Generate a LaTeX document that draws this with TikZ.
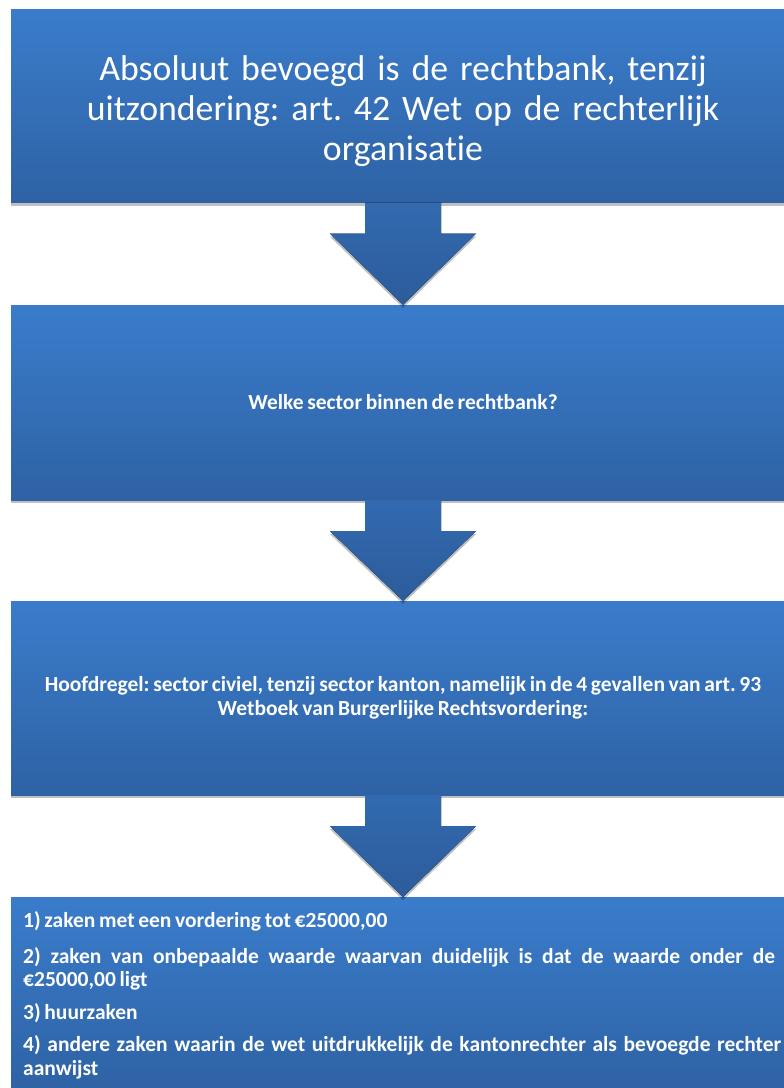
\documentclass[tikz,border=0pt]{standalone}
\usepackage{fontspec}
\setmainfont{Carlito}[Ligatures={NoCommon}]
\usetikzlibrary{calc,shadows}
\definecolor{boxtop}{RGB}{58,124,203}
\definecolor{boxbot}{RGB}{46,98,164}
\definecolor{arrtop}{RGB}{50,106,176}
\definecolor{arrbot}{RGB}{44,92,154}
\tikzset{
  flowbox/.style={rectangle, minimum width=784pt, text=white, top color=boxtop, bottom color=boxbot,
    drop shadow={shadow xshift=0pt, shadow yshift=-3pt, opacity=0.25, fill=black}},
  downarrow/.style={top color=arrtop, bottom color=arrbot,
    drop shadow={shadow xshift=0pt, shadow yshift=-3pt, opacity=0.25, fill=black}}
}
\begin{document}
\frenchspacing
\begin{tikzpicture}[x=1pt,y=-1pt]
\useasboundingbox (0,0) rectangle (784,1088);
\fill[white] (0,0) rectangle (784,1088);
\node[flowbox, minimum height=193pt, text width=760pt, align=center,
  font=\fontsize{35.8}{40}\selectfont] (box1) at (403,106)
  {\rule{0pt}{36pt}Absoluut bevoegd is de rechtbank, tenzij\\ uitzondering: art. 42 Wet op de rechterlijk\\ organisatie};
\node[flowbox, minimum height=195pt, text width=760pt, align=center,
  font=\bfseries\fontsize{21.5}{23.5}\selectfont] (box2) at (403,402.5)
  {\spaceskip=0.17em Welke sector binnen de rechtbank?};
\node[flowbox, minimum height=194pt, text width=770pt, align=center,
  font=\bfseries\fontsize{21.5}{23.5}\selectfont] (box3) at (403,698)
  {\spaceskip=0.17em Hoofdregel: sector civiel, tenzij sector kanton, namelijk in de 4 gevallen van art. 93\\ Wetboek van Burgerlijke Rechtsvordering:};
\node[flowbox, minimum height=196pt, text width=764pt, inner xsep=12pt, inner ysep=0pt, anchor=north west,
  font=\bfseries\fontsize{21.5}{23.5}\selectfont] (box4) at (11,897)
  {\vspace*{3pt}\parskip=9pt\parindent=0pt\spaceskip=0.17em plus 1em minus 0.05em
  1) zaken met een vordering tot €25000,00\par
  2) zaken van onbepaalde waarde waarvan duidelijk is dat de waarde onder de €25000,00 ligt\par
  3) huurzaken\par
  4) andere zaken waarin de wet uitdrukkelijk de kantonrechter als bevoegde rechter aanwijst\par};
\foreach \a/\b in {box1/box2, box2/box3, box3/box4}{
  \fill[downarrow] ($(\a.south)+(-38,0)$) -- ($(\a.south)+(38,0)$) -- ($(\a.south)+(38,31)$)
    -- ($(\a.south)+(73,31)$) -- (\a.south |- \b.north) -- ($(\a.south)+(-73,31)$)
    -- ($(\a.south)+(-38,31)$) -- cycle;
}
\end{tikzpicture}
\end{document}
